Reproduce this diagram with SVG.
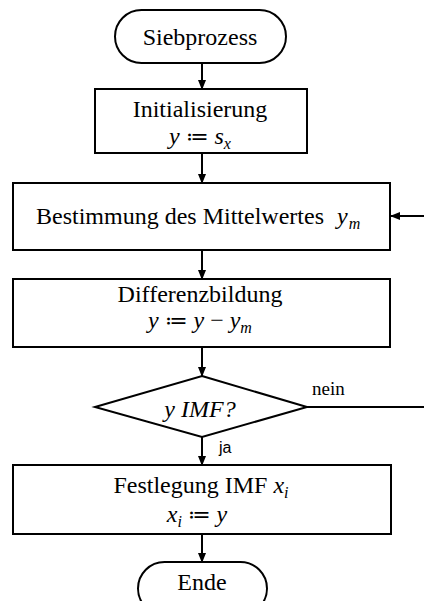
<svg xmlns="http://www.w3.org/2000/svg" width="424" height="601" viewBox="0 0 424 601">
<defs>
<marker id="ah" markerWidth="10" markerHeight="10" refX="9" refY="5" orient="auto" markerUnits="userSpaceOnUse">
<path d="M0,1 L10,5 L0,9 Z" fill="#000"/>
</marker>
<style>
.s{fill:#fff;stroke:#000;stroke-width:2}
.t{font-family:'Liberation Serif','Tinos','DejaVu Serif',serif;font-size:24px;fill:#000}
.m{font-family:'Liberation Serif','Tinos','DejaVu Serif',serif;font-size:24px;font-style:italic;fill:#000}
.sub{font-size:16px}
.op{font-style:normal;font-family:'DejaVu Serif','Liberation Serif',serif;font-size:22px}
.c{fill:none;stroke:#000;stroke-width:2}
.l{font-family:'Liberation Serif','DejaVu Serif',serif;font-size:19px;fill:#000}
.ls{font-family:'Liberation Sans',Arial,sans-serif;font-size:16px;fill:#000}
</style>
</defs>
<rect width="424" height="601" fill="#fff"/>
<g id="connectors">
<line class="c" x1="202" y1="63" x2="202" y2="89" marker-end="url(#ah)"/>
<line class="c" x1="202" y1="153" x2="202" y2="183" marker-end="url(#ah)"/>
<line class="c" x1="202" y1="250" x2="202" y2="279" marker-end="url(#ah)"/>
<line class="c" x1="202" y1="347" x2="202" y2="376" marker-end="url(#ah)"/>
<line class="c" x1="202" y1="437" x2="202" y2="465" marker-end="url(#ah)"/>
<line class="c" x1="202" y1="534" x2="202" y2="562" marker-end="url(#ah)"/>
<path class="c" d="M307,407 H426 V216 H391" marker-end="url(#ah)"/>
<text class="l" x="312" y="395">nein</text>
<text class="ls" x="219" y="453">ja</text>
</g>
<g id="start">
<rect class="s" x="115" y="10" width="171" height="53" rx="26.5"/>
<text class="t" x="200" y="45" text-anchor="middle">Siebprozess</text>
</g>
<g id="init">
<rect class="s" x="95" y="89" width="212" height="64"/>
<text class="t" x="200" y="117" text-anchor="middle">Initialisierung</text>
<text class="m" x="200" y="144" text-anchor="middle">y<tspan class="op" dx="6">≔</tspan><tspan dx="6">s</tspan><tspan class="sub" dy="5">x</tspan></text>
</g>
<g id="mittelwert">
<rect class="s" x="13" y="183" width="377" height="67"/>
<text class="t" x="36" y="224">Bestimmung des Mittelwertes<tspan class="m" dx="13">y</tspan><tspan class="m sub" dy="5" dx="1">m</tspan></text>
</g>
<g id="differenz">
<rect class="s" x="13" y="279" width="377" height="68"/>
<text class="t" x="200" y="302" text-anchor="middle">Differenzbildung</text>
<text class="m" x="200" y="328" text-anchor="middle">y<tspan class="op" dx="6">≔</tspan><tspan dx="6">y</tspan><tspan font-style="normal" dx="6">−</tspan><tspan dx="6">y</tspan><tspan class="sub" dy="5">m</tspan></text>
</g>
<g id="entscheidung">
<polygon class="s" points="202,376 307,407 202,437 95,407"/>
<text class="m" x="200" y="417" text-anchor="middle">y IMF?</text>
</g>
<g id="festlegung">
<rect class="s" x="13" y="465" width="378" height="69"/>
<text class="t" x="201" y="493" text-anchor="middle">Festlegung IMF <tspan class="m">x</tspan><tspan class="m sub" dy="5">i</tspan></text>
<text class="m" x="197" y="522" text-anchor="middle">x<tspan class="sub" dy="5">i</tspan><tspan class="op" dy="-5" dx="6">≔</tspan><tspan dx="6">y</tspan></text>
</g>
<g id="ende">
<rect class="s" x="138" y="562" width="129" height="53" rx="26.5"/>
<text class="t" x="202" y="590" text-anchor="middle">Ende</text>
</g>
</svg>
